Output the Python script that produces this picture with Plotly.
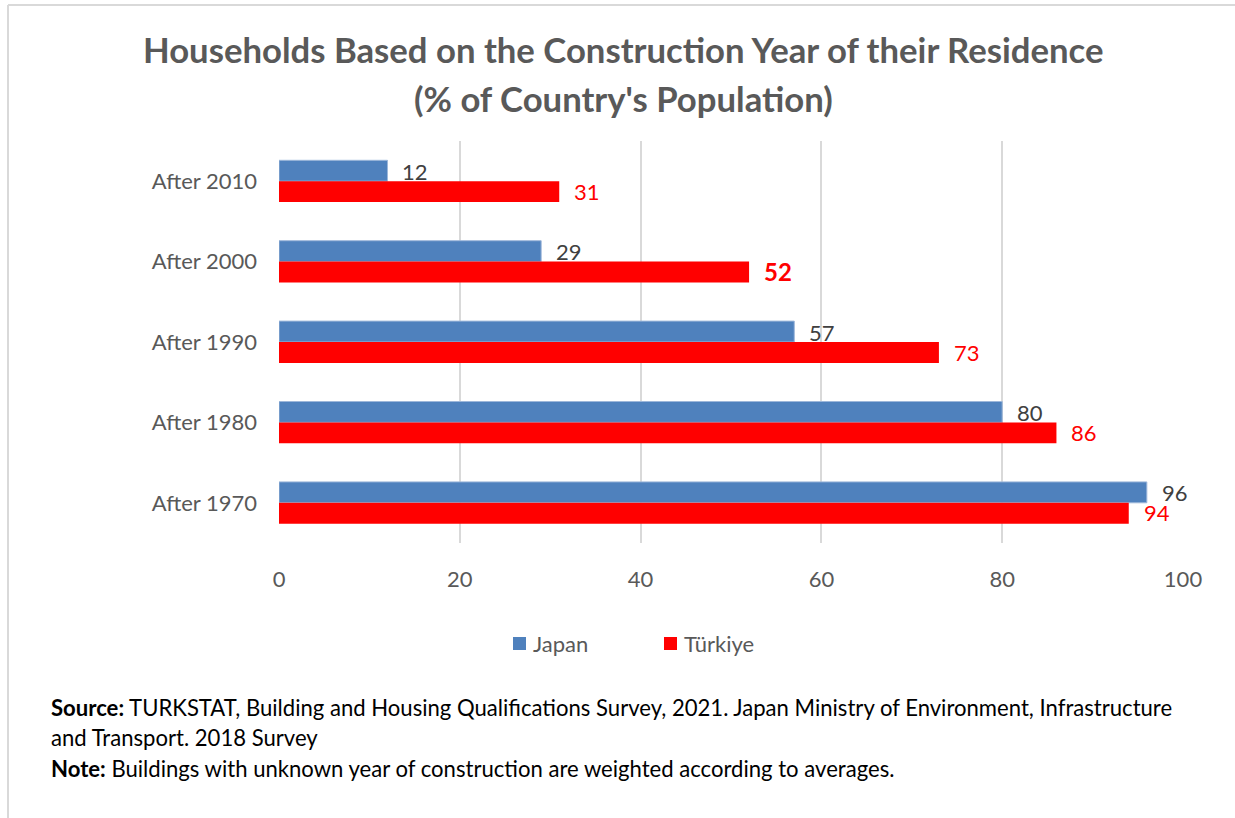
import plotly.graph_objects as go

# Data
categories = ["After 2010", "After 2000", "After 1990", "After 1980", "After 1970"]
japan = [12, 29, 57, 80, 96]
turkiye = [31, 52, 73, 86, 94]
x_ticks = [0, 20, 40, 60, 80, 100]
series_names = ["Japan", "Türkiye"]

W, H = 1235, 818
L, R, T, B = 279, 1183, 141, 543  # plot area in pixels

FONT = "Lato, 'Open Sans', sans-serif"
GRAY = "#595959"
BLUE = "#4F81BD"
RED = "#FF0000"


def px_x(p):
    return (p - L) / (R - L)


def px_y(p):
    return (B - p) / (B - T)


fig = go.Figure()
fig.add_trace(go.Bar(
    y=categories, x=japan, orientation="h", name=series_names[0],
    marker=dict(color=BLUE, line=dict(color="#9db7da", width=1)),
    showlegend=False,
))
fig.add_trace(go.Bar(
    y=categories, x=turkiye, orientation="h", name=series_names[1],
    marker=dict(color=RED, line=dict(width=0)),
    showlegend=False,
))

annotations = []
# value labels next to each bar end
for cat, v in zip(categories, japan):
    annotations.append(dict(
        x=v, y=cat, xref="x", yref="y", text=str(v), showarrow=False,
        xanchor="left", yanchor="middle", xshift=13, yshift=10,
        font=dict(family=FONT, size=22, color="#404040"),
    ))
for cat, v in zip(categories, turkiye):
    bold = v == 52
    annotations.append(dict(
        x=v, y=cat, xref="x", yref="y",
        text=f"<b>{v}</b>" if bold else str(v), showarrow=False,
        xanchor="left", yanchor="middle", xshift=13, yshift=-10,
        font=dict(family=FONT, size=24 if bold else 22, color=RED),
    ))

# title
for ypix, txt in [(50, "Households Based on the Construction Year of their Residence"),
                  (98, "(% of Country's Population)")]:
    annotations.append(dict(
        x=px_x(623), y=px_y(ypix), xref="paper", yref="paper",
        text=f"<b>{txt}</b>", showarrow=False, xanchor="center", yanchor="middle",
        font=dict(family=FONT, size=34.7, color=GRAY),
    ))

# footer notes
footer = [
    (707, "<b>Source:</b> TURKSTAT, Building and Housing Qualifications Survey, 2021. Japan Ministry of Environment, Infrastructure"),
    (737, "and Transport. 2018 Survey"),
    (768, "<b>Note:</b> Buildings with unknown year of construction are weighted according to averages."),
]
for ypix, txt in footer:
    annotations.append(dict(
        x=px_x(49), y=px_y(ypix), xref="paper", yref="paper", text=txt,
        showarrow=False, xanchor="left", yanchor="middle",
        font=dict(family=FONT, size=22.1, color="#000000"),
    ))

shapes = [
    dict(type="line", xref="paper", yref="paper",
         x0=px_x(8), x1=px_x(1235), y0=px_y(5), y1=px_y(5),
         line=dict(color="#d9d9d9", width=2)),
    dict(type="line", xref="paper", yref="paper",
         x0=px_x(8), x1=px_x(8), y0=px_y(5), y1=px_y(818),
         line=dict(color="#d9d9d9", width=2)),
]

# legend: colour swatch + series name
legend_items = [(513, BLUE), (664, RED)]
for (xpix, color), name in zip(legend_items, series_names):
    shapes.append(dict(
        type="rect", xref="paper", yref="paper",
        x0=px_x(xpix), x1=px_x(xpix + 13), y0=px_y(650), y1=px_y(637),
        fillcolor=color, line=dict(width=0),
    ))
    annotations.append(dict(
        x=px_x(xpix + 18), y=px_y(643), xref="paper", yref="paper", text=name,
        showarrow=False, xanchor="left", yanchor="middle",
        font=dict(family=FONT, size=22, color=GRAY),
    ))

fig.update_layout(
    width=W, height=H,
    margin=dict(l=L, r=W - R, t=T, b=H - B, pad=0),
    paper_bgcolor="white", plot_bgcolor="white",
    barmode="group", bargap=0.48, bargroupgap=0,
    font=dict(family=FONT, size=22, color=GRAY),
    showlegend=False,
    xaxis=dict(
        range=[0, 100], tickvals=x_ticks, showgrid=True, gridcolor="#d9d9d9",
        gridwidth=1.5, zeroline=False, showline=False, ticks="",
        tickfont=dict(family=FONT, size=22, color=GRAY), ticklabelstandoff=21,
        fixedrange=True,
    ),
    yaxis=dict(
        categoryorder="array", categoryarray=categories, autorange="reversed",
        showgrid=False, zeroline=False, showline=False, ticks="",
        tickfont=dict(family=FONT, size=22, color=GRAY), ticklabelstandoff=21,
    ),
    annotations=annotations,
    shapes=shapes,
)

fig.write_html("out.html")
